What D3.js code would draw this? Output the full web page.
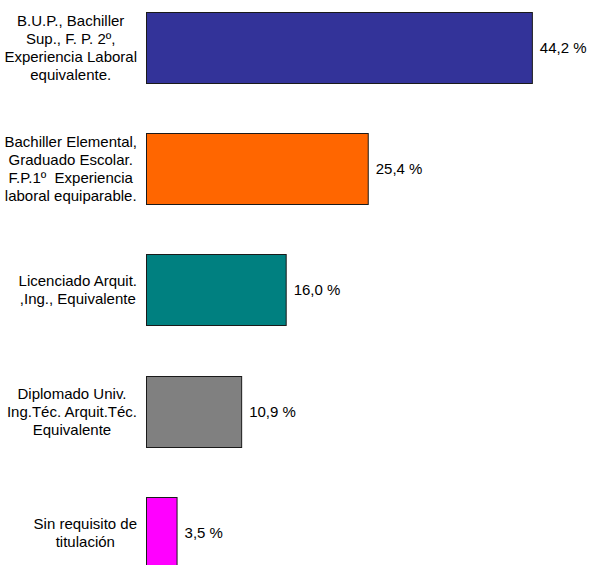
<!DOCTYPE html>
<html>
<head>
<meta charset="utf-8">
<script src="https://cdn.jsdelivr.net/npm/d3@7"></script>
<style>
  html, body { margin: 0; padding: 0; background: #fff; }
  text { font-family: "Liberation Sans", Arial, sans-serif; fill: #000; }
</style>
</head>
<body>
<svg id="chart" width="592" height="565"></svg>
<script>
const categories = [
  ["B.U.P., Bachiller", "Sup., F. P. 2º,", "Experiencia Laboral", "equivalente."],
  ["Bachiller Elemental,", "Graduado Escolar.", "F.P.1º  Experiencia", "laboral equiparable."],
  ["Licenciado Arquit.", ",Ing., Equivalente"],
  ["Diplomado Univ.", "Ing.Téc. Arquit.Téc.", "Equivalente"],
  ["Sin requisito de", "titulación"]
];
const values = [44.2, 25.4, 16.0, 10.9, 3.5];
const colors = ["#333399", "#FF6600", "#008080", "#808080", "#FF00FF"];

const ids = categories.map((c, i) => i);
const svg = d3.select("#chart");

const x = d3.scaleLinear().domain([0, 50]).range([146.5, 583]);
const y = d3.scaleBand().domain(ids).range([-13.1, 593.15])
  .paddingInner(0.414).paddingOuter(0.207);

const fmt = v => v.toFixed(1).replace(".", ",") + " %";

// bars
svg.selectAll("rect.bar").data(ids).join("rect")
  .attr("class", "bar")
  .attr("x", x(0))
  .attr("y", i => Math.round(y(i)) + 0.5)
  .attr("width", i => x(values[i]) - x(0))
  .attr("height", Math.round(y.bandwidth()))
  .attr("fill", i => colors[i])
  .attr("stroke", "#1a1a1a")
  .attr("stroke-width", 1);

// value labels
svg.selectAll("text.val").data(ids).join("text")
  .attr("class", "val")
  .attr("x", i => x(values[i]) + 7.5)
  .attr("y", i => y(i) + y.bandwidth() / 2)
  .attr("dy", "0.35em")
  .attr("font-size", "15px")
  .text(i => fmt(values[i]));

// category labels
const lineH = 18;
const rightEdge = 137;
const g = svg.selectAll("g.cat").data(ids).join("g").attr("class", "cat");
g.each(function(i) {
  const lines = categories[i];
  const t = d3.select(this).append("text")
    .attr("text-anchor", "middle")
    .attr("font-size", "15px")
    .style("white-space", "pre");
  const cy = y(i) + y.bandwidth() / 2;
  lines.forEach((l, k) => {
    t.append("tspan")
      .attr("x", 0)
      .attr("y", cy + (k - (lines.length - 1) / 2) * lineH)
      .attr("dy", "0.35em")
      .text(l);
  });
  const w = t.node().getBBox().width;
  d3.select(this).attr("transform", `translate(${rightEdge - w / 2},0)`);
});
</script>
</body>
</html>
